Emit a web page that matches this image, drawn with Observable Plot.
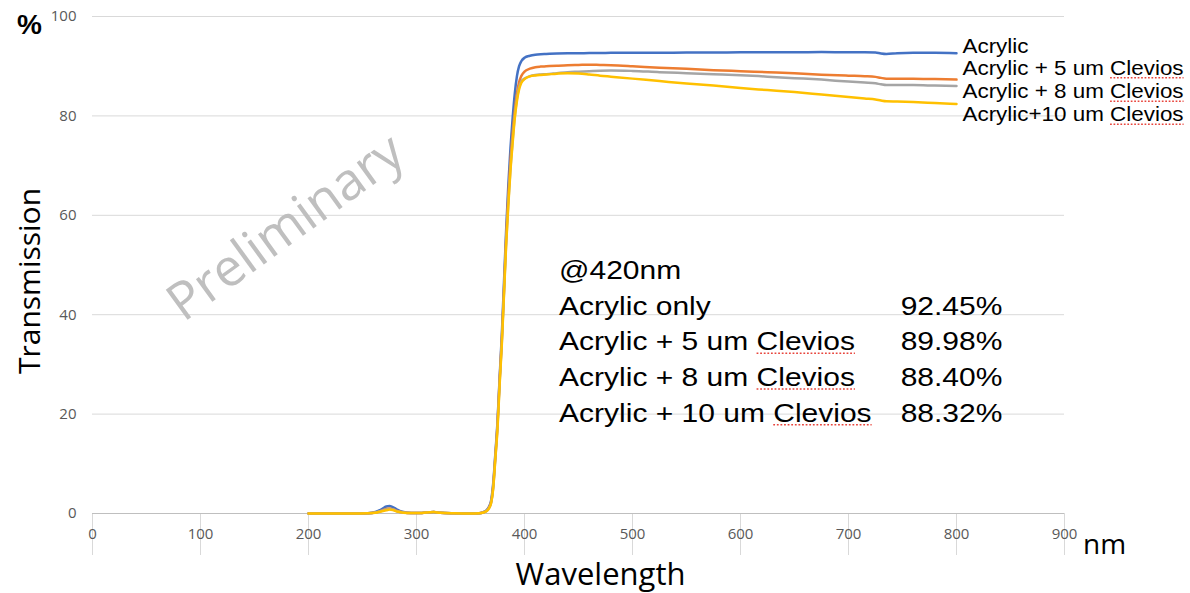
<!DOCTYPE html>
<html>
<head>
<meta charset="utf-8">
<script src="https://cdn.jsdelivr.net/npm/d3@7"></script>
<script src="https://cdn.jsdelivr.net/npm/@observablehq/plot@0.6"></script>
<style>
  html, body { margin: 0; padding: 0; background: #ffffff; }
  #chart svg { display: block; }
</style>
</head>
<body>
<div id="chart"></div>
<script>
// ---- Data ----
const wavelength = [200, 240, 255, 262, 268, 272, 275, 278, 282, 288, 295, 305, 312, 316, 322, 335, 350, 358, 362, 365,
  367, 369, 371, 373, 375, 377, 379, 381, 383, 385, 387, 389, 391, 393, 395, 397, 400, 405, 410, 415,
  420, 430, 440, 450, 460, 470, 480, 500, 525, 550, 575, 600, 625, 650, 675, 700, 715, 725, 730, 735, 745, 760, 780, 800];

const acrylic = [0, 0, 0.05, 0.3, 0.9, 1.4, 1.5, 1.3, 0.8, 0.3, 0.1, 0.1, 0.25, 0.3, 0.15, 0.05, 0, 0.05, 0.3, 0.7,
  1.3, 2.5, 6, 12, 18.5, 27.5, 36, 46.5, 57, 66, 73.5, 79.5, 84.5, 88, 90, 91, 91.7, 92.1, 92.3, 92.4,
  92.45, 92.55, 92.6, 92.6, 92.65, 92.65, 92.7, 92.7, 92.7, 92.75, 92.75, 92.8, 92.8, 92.8, 92.85, 92.8, 92.8, 92.75, 92.55, 92.45, 92.6, 92.7, 92.7, 92.6];

const clevios5 = [0, 0, 0.05, 0.2, 0.6, 0.9, 1.0, 0.85, 0.5, 0.2, 0.1, 0.1, 0.25, 0.3, 0.15, 0.05, 0, 0.05, 0.25, 0.6,
  1.2, 2.2, 5.5, 11.5, 18, 27, 35, 45, 55.5, 64, 71, 76.5, 81, 84.5, 86.8, 88, 88.9, 89.5, 89.8, 89.92,
  89.98, 90.1, 90.2, 90.25, 90.3, 90.25, 90.2, 90.0, 89.7, 89.5, 89.2, 89.0, 88.8, 88.6, 88.3, 88.1, 88.0, 87.85, 87.65, 87.5, 87.5, 87.5, 87.4, 87.3];

const clevios8 = [0, 0, 0.05, 0.2, 0.55, 0.8, 0.9, 0.8, 0.45, 0.2, 0.1, 0.1, 0.25, 0.3, 0.15, 0.05, 0, 0.05, 0.22, 0.55,
  1.1, 2.1, 5.2, 11.2, 17.5, 26.5, 34.5, 44.5, 54.5, 62.5, 69.5, 75, 80, 83.5, 85.8, 86.9, 87.5, 88.0, 88.25, 88.35,
  88.4, 88.6, 88.8, 88.9, 89.0, 89.1, 89.15, 89.05, 88.8, 88.6, 88.4, 88.2, 87.9, 87.6, 87.3, 86.9, 86.7, 86.55, 86.35, 86.2, 86.2, 86.2, 86.1, 86.0];

const clevios10 = [0, 0, 0.05, 0.15, 0.45, 0.65, 0.8, 0.7, 0.4, 0.15, 0.1, 0.1, 0.25, 0.3, 0.15, 0.05, 0, 0.05, 0.2, 0.5,
  1.0, 2.0, 5.0, 11, 17, 26, 34, 44, 54, 62, 69, 74.5, 79.5, 83, 85.3, 86.6, 87.4, 87.95, 88.15, 88.25,
  88.32, 88.5, 88.6, 88.55, 88.35, 88.1, 87.9, 87.5, 87.0, 86.5, 86.1, 85.6, 85.2, 84.8, 84.3, 83.8, 83.5, 83.3, 83.1, 82.95, 82.9, 82.8, 82.6, 82.4];

const seriesNames = ["Acrylic", "Acrylic + 5 um Clevios", "Acrylic + 8 um Clevios", "Acrylic+10 um Clevios"];
const seriesColors = ["#4472C4", "#ED7D31", "#A5A5A5", "#FFC000"];

const xTicks = [0, 100, 200, 300, 400, 500, 600, 700, 800, 900];
const yTicks = [0, 20, 40, 60, 80, 100];

const annotLabels = ["@420nm", "Acrylic only", "Acrylic + 5 um Clevios", "Acrylic + 8 um Clevios", "Acrylic + 10 um Clevios"];
const annotValues = ["", "92.45%", "89.98%", "88.40%", "88.32%"];

const watermark = ["Preliminary"];

// ---- Build tables ----
const seriesValues = [acrylic, clevios5, clevios8, clevios10];
const rows = seriesValues.flatMap((vals, s) =>
  wavelength.map((w, i) => ({series: seriesNames[s], wl: w, t: vals[i]})));
const lastPoints = seriesValues.map((vals, s) =>
  ({series: seriesNames[s], wl: wavelength[wavelength.length - 1], t: vals[vals.length - 1]}));
const annot = annotLabels.map((label, i) => ({label, value: annotValues[i], i}));

const tickFont = "'Open Sans', sans-serif";
const textFont = "'Liberation Sans', Arial, sans-serif";
const legendDy = [-7, -11, 6, 11];

const chart = Plot.plot({
  width: 1190,
  height: 593,
  marginLeft: 92,
  marginRight: 126,
  marginTop: 16,
  marginBottom: 80,
  style: {background: "#ffffff", fontFamily: tickFont},
  x: {domain: [0, 900], ticks: xTicks},
  y: {domain: [0, 100], ticks: yTicks},
  color: {domain: seriesNames, range: seriesColors},
  marks: [
    Plot.ruleY(yTicks.slice(1), {stroke: "#d9d9d9", strokeWidth: 1}),
    Plot.axisX(xTicks, {tickSize: 42, stroke: "#d9d9d9", strokeOpacity: 1, fill: "none", label: null}),
    Plot.ruleY([0], {stroke: "#bfbfbf", strokeWidth: 1.2}),
    Plot.axisX(xTicks, {tickSize: 0, tickPadding: 15, fill: "#595959", fontSize: 15, fontFamily: tickFont, label: null}),
    Plot.axisY(yTicks, {tickSize: 0, tickPadding: 16, fill: "#595959", fontSize: 15, fontFamily: tickFont, label: null}),
    Plot.text(watermark, {x: () => 179, y: () => 57.5, text: d => d, rotate: -36, fill: "#bfbfbf",
      fontSize: 52, fontFamily: tickFont, textAnchor: "middle", lineAnchor: "middle"}),
    Plot.line(rows, {x: "wl", y: "t", z: "series", stroke: "series", strokeWidth: 2.5, curve: "monotone-x"}),
    ...lastPoints.map((p, i) => Plot.text([p], {x: "wl", y: "t", text: "series", textAnchor: "start",
      dx: 6, dy: legendDy[i], fontSize: 19.5, fontFamily: textFont, fill: "#000000", className: "stretch-legend"})),
    Plot.text(annot, {x: () => 432, y: d => 48.8 - d.i * 7.18, text: "label", textAnchor: "start",
      fontSize: 25, fontFamily: textFont, fill: "#000000", className: "stretch-annot"}),
    Plot.text(annot, {x: () => 842.5, y: d => 48.8 - d.i * 7.18, text: "value", textAnchor: "end",
      fontSize: 25, fontFamily: textFont, fill: "#000000", className: "stretch-annot"}),
    Plot.text(["%"], {frameAnchor: "top-left", dx: -63, dy: 9, text: d => d, fontSize: 28, fontWeight: "bold",
      fontFamily: textFont, fill: "#000000", textAnchor: "middle", lineAnchor: "middle"}),
    Plot.text(["Transmission"], {frameAnchor: "left", dx: -62, dy: 16, text: d => d, rotate: -90, fontSize: 30,
      fontFamily: tickFont, fill: "#000000", textAnchor: "middle", lineAnchor: "middle"}),
    Plot.text(["Wavelength"], {frameAnchor: "bottom", dx: 22, dy: 62, text: d => d, fontSize: 31,
      fontFamily: tickFont, fill: "#000000", textAnchor: "middle", lineAnchor: "middle"}),
    Plot.text(["nm"], {frameAnchor: "bottom-right", dx: 40, dy: 32, text: d => d, fontSize: 28,
      fontFamily: tickFont, fill: "#000000", textAnchor: "middle", lineAnchor: "middle"})
  ]
});

document.getElementById("chart").append(chart);

const root = chart.tagName.toLowerCase() === "svg" ? chart : chart.querySelector("svg");
const svg = d3.select(root);

// Tick labels: enlarge any purely numeric text (axis tick labels)
svg.selectAll("text").each(function() {
  if (/^\d+$/.test(this.textContent.trim())) {
    this.style.setProperty("font-size", "15px", "important");
    this.style.setProperty("font-family", tickFont, "important");
    this.style.setProperty("fill", "#595959", "important");
  }
});

// Horizontal stretch of the Helvetica-like labels, and the red dotted spell-check underline under "Clevios"
function stretch(selector, k) {
  svg.selectAll(selector + " text").each(function() {
    const t = this.getAttribute("transform") || "";
    this.setAttribute("transform", t + ` scale(${k},1)`);
    const s = this.textContent;
    const idx = s.indexOf("Clevios");
    if (idx >= 0) {
      const a = this.getStartPositionOfChar(idx);
      const b = this.getEndPositionOfChar(s.length - 1);
      const line = document.createElementNS("http://www.w3.org/2000/svg", "line");
      line.setAttribute("x1", a.x);
      line.setAttribute("x2", b.x);
      line.setAttribute("y1", a.y + 3);
      line.setAttribute("y2", a.y + 3);
      line.setAttribute("stroke", "#e8453c");
      line.setAttribute("stroke-width", "1.5");
      line.setAttribute("stroke-dasharray", "1.5 1.5");
      line.setAttribute("transform", this.getAttribute("transform"));
      this.parentNode.appendChild(line);
    }
  });
}
stretch(".stretch-legend", 1.15);
stretch(".stretch-annot", 1.2);
</script>
</body>
</html>
